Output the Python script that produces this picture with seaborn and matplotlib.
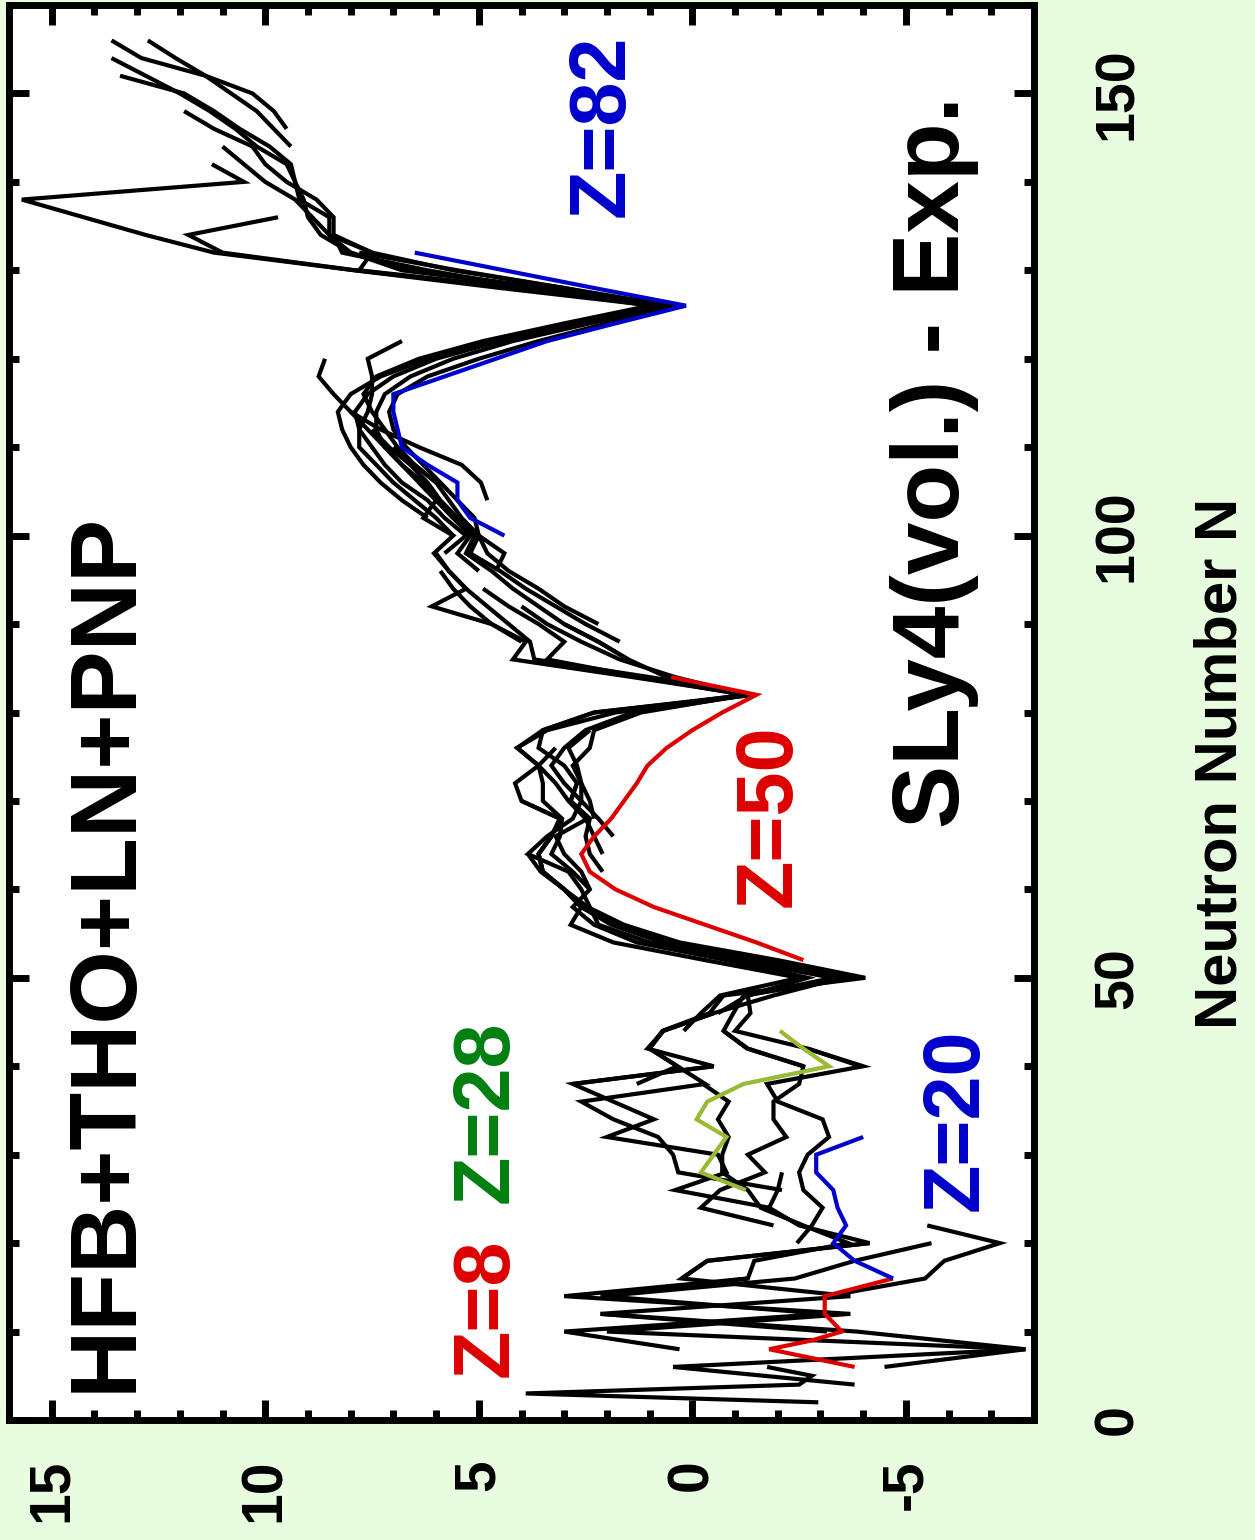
import numpy as np
import pandas as pd
import matplotlib
matplotlib.use("Agg")
import matplotlib.pyplot as plt
import seaborn as sns
from matplotlib.ticker import MultipleLocator

sns.set_theme(style="white")
plt.rcParams["font.family"] = ["Liberation Sans", "DejaVu Sans"]
plt.rcParams["font.weight"] = "bold"
plt.rcParams["lines.solid_joinstyle"] = "miter"
plt.rcParams["lines.solid_capstyle"] = "butt"
plt.rcParams["axes.unicode_minus"] = False
plt.rcParams["text.color"] = "black"
plt.rcParams["xtick.color"] = "black"
plt.rcParams["ytick.color"] = "black"
plt.rcParams["axes.labelcolor"] = "black"

# ---------------- data: (N, SLy4 - Exp) per isotopic chain ----------------
# coloured chains
N_z8 = [6, 8, 9, 10, 12, 14, 16]
dE_z8 = [-3.8, -1.8, -2.8, -3.5, -3.1, -3.1, -4.7]
N_z20 = [16, 18, 20, 22, 24, 26, 28, 30, 32]
dE_z20 = [-4.7, -3.8, -3.3, -3.6, -3.4, -3.3, -2.9, -2.9, -4.0]
N_z28 = [26, 28, 30, 32, 34, 36, 38, 40, 42, 44]
dE_z28 = [-1.25, -0.2, -0.5, -0.8, -0.1, -0.35, -1.2, -3.2, -2.6, -2.05]
N_z50 = [52, 54, 56, 58, 60, 62, 64, 66, 68, 70, 72, 74, 76, 78, 80, 82, 84]
dE_z50 = [-2.6, -1.5, -0.3, 0.9, 1.8, 2.4, 2.6, 2.3, 1.9, 1.6, 1.3, 1.05, 0.6, 0.0, -0.7, -1.5, 0.5]
N_z82 = [100, 102, 104, 106, 108, 110, 112, 114, 116, 118, 120, 122, 124, 126, 128, 130, 132]
dE_z82 = [4.4, 5.2, 5.5, 5.5, 6.2, 6.8, 6.9, 7.0, 7.0, 5.8, 4.6, 3.4, 1.8, 0.15, 2.3, 4.4, 6.5]

# black chains: light nuclei
N_g1 = [2, 3, 4, 5, 6]
dE_g1 = [-2.95, 3.9, -2.5, -2.8, -1.75]
N_g2 = [4, 6, 8, 10, 12]
dE_g2 = [-3.8, 0.45, -7.8, -3.85, 2.15]
N_g3 = [6, 8, 10, 12, 14, 16]
dE_g3 = [-4.5, -7.8, 2.0, -3.7, 3.0, -1.3]
N_g4 = [8, 10, 12, 14, 16, 18, 20]
dE_g4 = [0.3, 3.0, -3.1, 2.1, -2.4, -3.8, -5.6]
N_g5 = [10, 12, 14, 16, 18, 20]
dE_g5 = [-3.15, 2.15, -3.7, 0.25, -0.35, -4.15]
N_g6 = [14, 16, 18, 20, 22]
dE_g6 = [-3.15, -5.45, -5.9, -7.2, -5.5]

# sd / fp shell chains
N_f1 = [26, 28, 30, 32, 34, 36, 38, 40, 42, 44, 46]
dE_f1 = [-2.1, 0.33, 0.45, 0.8, 1.85, 2.6, -0.3, 0.35, 1.0, 0.68, -0.5]
N_f2 = [24, 26, 28, 30, 32, 34, 36, 38, 40]
dE_f2 = [-1.8, 0.4, -0.8, -0.6, 2.0, 0.9, 1.85, 2.8, -0.5]
N_f3 = [22, 24, 26, 28, 30, 32, 34, 36, 38, 40, 42, 44]
dE_f3 = [-1.9, -0.2, -0.65, -1.7, -1.3, -2.2, -1.9, -1.9, -2.5, -2.6, -1.3, -0.73]
N_f4 = [20, 22, 24, 26, 28, 30, 32, 34, 36, 38, 40, 42]
dE_f4 = [-2.45, -2.8, -3.05, -2.6, -2.5, -2.7, -3.2, -3.05, -2.0, -1.75, -4.0, -2.7]
N_f5 = [14, 16, 18, 20, 22, 24, 26, 28, 30, 32, 34, 36, 38]
dE_f5 = [2.15, -1.3, -1.45, -3.65, -2.6, -1.6, -1.3, -0.7, -0.7, -0.85, -0.6, -0.85, -0.25]
N_f6 = [16, 18, 20, 22, 24, 26, 28]
dE_f6 = [0.25, -0.35, -4.15, -2.5, -1.8, -2.0, -2.1]

# chains crossing N=50
N_e1 = [38, 40, 42, 44, 46, 48, 50, 52, 54, 56, 58, 60, 62, 64]
dE_e1 = [2.8, -0.5, 1.05, 0.68, -0.5, -1.9, -3.5, -1.4, 0.6, 1.8, 2.6, 3.0, 3.55, 3.85]
N_e2 = [38, 40, 42, 44, 46, 48, 50, 52, 54, 56, 58, 60, 62, 64, 66]
dE_e2 = [1.3, 0.35, 1.0, 0.7, -0.4, -0.73, -4.05, -2.0, 0.3, 1.6, 2.45, 3.0, 3.5, 3.6, 3.3]
N_e3 = [40, 42, 44, 46, 48, 50, 52, 54, 56, 58, 60, 62, 64, 66, 68, 70]
dE_e3 = [-2.6, -1.28, -0.73, -0.96, -1.2, -3.8, -1.6, 0.7, 1.9, 2.6, 3.0, 3.5, 3.6, 3.3, 3.1, 4.0]
N_e4 = [40, 42, 44, 46, 48, 50, 52, 54, 56, 58, 60, 62, 64, 66, 68, 70, 72]
dE_e4 = [-3.93, -2.7, -1.0, -1.36, -1.3, -2.7, -0.8, 1.3, 2.3, 2.8, 2.4, 2.6, 3.0, 3.2, 2.45, 2.85, 2.7]
N_e5 = [44, 46, 48, 50, 52, 54, 56, 58, 60, 62, 64, 66, 68, 70, 72, 74, 76]
dE_e5 = [0.2, -0.2, -0.65, -2.5, -0.3, 1.85, 2.85, 2.6, 3.0, 3.5, 3.6, 3.3, 3.1, 4.0, 4.15, 3.6, 3.2]
N_e6 = [46, 48, 50, 52, 54, 56, 58, 60, 62, 64, 66, 68, 70, 72, 74, 76, 78]
dE_e6 = [-0.6, -1.29, -3.3, -1.0, 1.0, 2.2, 2.4, 2.6, 2.9, 3.85, 3.4, 2.8, 2.6, 2.6, 2.7, 2.9, 2.4]

# chains crossing N=82
N_d1 = [60, 62, 64, 66, 68, 70, 72, 74, 76, 78, 80, 82, 84, 86, 88, 90, 92, 94, 96]
dE_d1 = [2.4, 2.8, 3.3, 3.1, 3.05, 3.5, 3.5, 3.6, 4.1, 3.5, 2.3, -1.3, 1.4, 4.2, 3.9, 4.7, 5.2, 5.6, 5.9]
N_d2 = [62, 64, 66, 68, 70, 72, 74, 76, 78, 80, 82, 84, 86, 88, 90, 92, 94, 96, 98]
dE_d2 = [2.1, 2.4, 2.5, 2.4, 2.85, 2.7, 3.0, 3.6, 3.5, 2.3, -1.45, 1.0, 3.7, 3.8, 4.3, 4.8, 5.3, 5.7, 6.0]
N_d3 = [64, 66, 68, 70, 72, 74, 76, 78, 80, 82, 84, 86, 88, 90, 92, 94]
dE_d3 = [2.1, 2.3, 2.5, 2.9, 3.2, 3.6, 4.1, 3.4, 1.8, -1.2, 1.2, 3.4, 3.0, 3.6, 4.3, 4.9]
N_d4 = [66, 68, 70, 72, 74, 76, 78, 80, 82, 84, 86, 88, 90]
dE_d4 = [1.85, 2.2, 2.6, 3.0, 3.3, 3.0, 2.5, 1.4, -1.35, 0.6, 1.5, 2.2, 3.0]
N_d5 = [68, 70, 72, 74, 76, 78, 80, 82, 84, 86, 88, 90, 92]
dE_d5 = [2.3, 2.4, 2.6, 2.8, 2.4, 2.3, 1.2, -1.25, 0.4, 1.7, 2.6, 3.4, 4.0]

# rare-earth chains
N_c1 = [90, 92, 94, 96, 98, 100, 102, 104, 106, 108, 110]
dE_c1 = [2.2, 3.0, 3.6, 4.3, 4.8, 5.0, 5.4, 5.7, 6.0, 6.5, 7.0]
N_c2 = [88, 90, 92, 94, 96, 98, 100, 102, 104, 106, 108, 110, 112]
dE_c2 = [1.7, 2.5, 3.2, 3.9, 4.5, 5.2, 5.0, 5.5, 5.9, 6.2, 6.6, 7.1, 7.5]
N_c3 = [86, 88, 90, 92, 94, 96, 98, 100, 102, 104, 106, 108, 110, 112, 114]
dE_c3 = [1.5, 2.2, 3.0, 3.6, 4.2, 4.7, 5.3, 5.1, 5.6, 6.0, 6.3, 6.8, 7.2, 7.6, 8.0]
N_c4 = [88, 90, 92, 94, 96, 98, 100, 102, 104, 106]
dE_c4 = [4.0, 4.7, 6.1, 5.3, 5.7, 6.05, 5.6, 6.3, 6.0, 6.4]

# chains crossing N=126
N_b2 = [104, 106, 108, 110, 112, 114, 116, 118, 120]
dE_b2 = [4.8, 4.95, 5.4, 6.4, 7.3, 8.0, 8.4, 8.75, 8.6]
N_b3 = [100, 102, 104, 106, 108, 110, 112, 114, 116, 118, 120, 122]
dE_b3 = [5.6, 6.0, 6.5, 7.0, 7.4, 7.8, 7.8, 7.6, 7.5, 7.5, 7.6, 6.8]
N_b4 = [96, 98, 100, 102, 104, 106, 108, 110, 112, 114, 116, 118, 120, 122, 124, 126, 128, 130, 132]
dE_b4 = [5.0, 5.5, 5.2, 5.6, 6.0, 6.4, 6.8, 7.2, 7.4, 7.4, 7.2, 6.6, 5.6, 4.2, 2.4, 0.5, 3.0, 5.5, 7.8]
N_b5 = [98, 100, 102, 104, 106, 108, 110, 112, 114, 116, 118, 120, 122, 124, 126, 128, 130]
dE_b5 = [5.8, 5.3, 5.8, 6.2, 6.8, 7.2, 7.5, 7.8, 7.9, 7.6, 7.0, 6.0, 4.5, 2.6, 0.7, 3.5, 6.5]
N_b6 = [102, 104, 106, 108, 110, 112, 114, 116, 118, 120, 122, 124, 126, 128]
dE_b6 = [6.2, 6.8, 7.3, 7.7, 8.0, 8.2, 8.3, 8.0, 7.3, 6.2, 4.6, 2.8, 0.9, 4.0]
N_b7 = [96, 98, 100, 102, 104, 106, 108, 110, 112, 114, 116, 118, 120, 122, 124, 126]
dE_b7 = [4.6, 4.4, 5.0, 5.1, 5.5, 5.9, 6.3, 6.7, 7.0, 7.1, 6.9, 6.2, 5.0, 3.6, 2.0, 0.3]
N_b8 = [106, 108, 110, 112, 114, 116, 118, 120, 122, 124, 126, 128, 130, 132, 134]
dE_b8 = [6.0, 6.5, 6.9, 7.2, 7.5, 7.7, 7.4, 6.4, 4.9, 3.0, 1.0, 3.8, 6.2, 8.2, 8.4]

# actinide chains
N_a1 = [126, 128, 130, 132, 134, 136, 138, 140, 142, 144, 146, 148]
dE_a1 = [0.8, 3.0, 5.6, 7.5, 8.4, 8.4, 8.8, 9.5, 10.0, 10.3, 11.2, 11.9]
N_a2 = [126, 128, 130, 132, 134, 136, 138, 140, 142, 144, 146, 148, 150, 152]
dE_a2 = [0.6, 3.4, 6.8, 8.0, 8.5, 8.5, 9.2, 9.3, 9.4, 9.9, 10.6, 11.2, 11.9, 13.4]
N_a3 = [126, 128, 130, 132, 134, 136, 138, 140, 142, 144, 146, 148, 150, 152, 154]
dE_a3 = [0.3, 3.6, 6.6, 8.0, 8.7, 9.0, 9.1, 9.3, 9.5, 10.2, 10.7, 11.3, 12.0, 12.8, 13.6]
N_a4 = [146, 148, 150, 152, 154, 156]
dE_a4 = [9.5, 9.8, 10.3, 11.4, 12.9, 13.6]
N_a5 = [144, 146, 148, 150, 152, 154, 156]
dE_a5 = [9.4, 9.8, 10.2, 10.8, 11.4, 12.1, 12.75]
N_a6 = [126, 128, 130, 132, 134, 136, 138, 140, 142, 144]
dE_a6 = [0.2, 4.0, 7.8, 7.5, 8.5, 8.9, 9.3, 10.0, 10.5, 11.0]
N_a7 = [126, 128, 130, 132, 134, 138, 140, 142]
dE_a7 = [0.9, 4.5, 7.9, 11.2, 12.8, 15.7, 10.5, 11.25]
N_a8 = [126, 128, 130, 132, 134, 136]
dE_a8 = [0.6, 4.2, 7.9, 11.0, 11.8, 9.7]

black_chains = {
    "g1": (N_g1, dE_g1), "g2": (N_g2, dE_g2), "g3": (N_g3, dE_g3),
    "g4": (N_g4, dE_g4), "g5": (N_g5, dE_g5), "g6": (N_g6, dE_g6),
    "f1": (N_f1, dE_f1), "f2": (N_f2, dE_f2), "f3": (N_f3, dE_f3),
    "f4": (N_f4, dE_f4), "f5": (N_f5, dE_f5), "f6": (N_f6, dE_f6),
    "e1": (N_e1, dE_e1), "e2": (N_e2, dE_e2), "e3": (N_e3, dE_e3),
    "e4": (N_e4, dE_e4), "e5": (N_e5, dE_e5), "e6": (N_e6, dE_e6),
    "d1": (N_d1, dE_d1), "d2": (N_d2, dE_d2), "d3": (N_d3, dE_d3),
    "d4": (N_d4, dE_d4), "d5": (N_d5, dE_d5),
    "c1": (N_c1, dE_c1), "c2": (N_c2, dE_c2), "c3": (N_c3, dE_c3), "c4": (N_c4, dE_c4),
    "b2": (N_b2, dE_b2), "b3": (N_b3, dE_b3), "b4": (N_b4, dE_b4), "b5": (N_b5, dE_b5),
    "b6": (N_b6, dE_b6), "b7": (N_b7, dE_b7), "b8": (N_b8, dE_b8),
    "a1": (N_a1, dE_a1), "a2": (N_a2, dE_a2), "a3": (N_a3, dE_a3), "a4": (N_a4, dE_a4),
    "a5": (N_a5, dE_a5), "a6": (N_a6, dE_a6), "a7": (N_a7, dE_a7), "a8": (N_a8, dE_a8),
}
rows = []
for name, (ns, ds) in black_chains.items():
    for n, d in zip(ns, ds):
        rows.append({"chain": name, "N": n, "dE": d})
df_black = pd.DataFrame(rows)

coloured = [
    (N_z8, dE_z8, "#dd0000"),
    (N_z20, dE_z20, "#0000cc"),
    (N_z28, dE_z28, "#99bb33"),
    (N_z50, dE_z50, "#dd0000"),
    (N_z82, dE_z82, "#0000cc"),
]

# ---------------- figure ----------------
W, H = 1255, 1540
fig = plt.figure(figsize=(W / 100, H / 100), dpi=100, facecolor="#e8fce0")
ax = fig.add_axes([9 / W, 1 - 1420 / H, (1034 - 9) / W, (1420 - 5) / H])
ax.set_facecolor("white")

LW = 3.0
sns.lineplot(data=df_black, x="dE", y="N", units="chain", estimator=None, sort=False,
             color="black", lw=LW, ax=ax, legend=False)
for ns, ds, col in coloured:
    sns.lineplot(x=ds, y=ns, estimator=None, sort=False, color=col, lw=LW, ax=ax, legend=False)

ax.set_xlim(16, -8)
ax.set_ylim(0, 160)
ax.set_xlabel("")
ax.set_ylabel("")

ax.xaxis.set_major_locator(MultipleLocator(5))
ax.xaxis.set_minor_locator(MultipleLocator(1))
ax.yaxis.set_major_locator(MultipleLocator(50))
ax.yaxis.set_minor_locator(MultipleLocator(10))
ax.tick_params(which="both", direction="in", top=True, bottom=True, left=True, right=True,
               width=5, color="black", labelcolor="black")
ax.tick_params(which="major", length=14.5)
ax.tick_params(which="minor", length=7.5)
ax.tick_params(axis="y", labelleft=False, labelright=True, pad=42, labelsize=40)
ax.tick_params(axis="x", pad=28, labelsize=41)
for s in ax.spines.values():
    s.set_linewidth(5)
    s.set_color("black")
    s.set_visible(True)

for lab in ax.get_xticklabels():
    lab.set_rotation(90)
    lab.set_ha("center")
    lab.set_va("top")
    lab.set_fontweight("bold")
    lab.set_color("black")
for lab in ax.get_yticklabels():
    lab.set_rotation(90)
    lab.set_ha("left")
    lab.set_va("center")
    lab.set_fontweight("bold")
    lab.set_color("black")

ax.text(1.182, 0.464, "Neutron Number N", transform=ax.transAxes, rotation=90,
        ha="center", va="center", fontsize=43, fontweight="bold", color="black")

ax.text(13.73, 52.9, "HFB+THO+LN+PNP", rotation=90, ha="center", va="center",
        fontsize=68, fontweight="bold", color="black")
ax.text(-5.66, 108.3, "SLy4(vol.) - Exp.", rotation=90, ha="center", va="center",
        fontsize=68, fontweight="bold", color="black")

ax.text(4.8, 12.7, "Z=8", rotation=90, ha="center", va="center", fontsize=57,
        fontweight="bold", color="#dd0000")
ax.text(4.8, 34.8, "Z=28", rotation=90, ha="center", va="center", fontsize=57,
        fontweight="bold", color="#007f10")
ax.text(-6.2, 34.0, "Z=20", rotation=90, ha="center", va="center", fontsize=57,
        fontweight="bold", color="#0000cc")
ax.text(-1.82, 68.3, "Z=50", rotation=90, ha="center", va="center", fontsize=57,
        fontweight="bold", color="#dd0000")
ax.text(2.08, 146.3, "Z=82", rotation=90, ha="center", va="center", fontsize=57,
        fontweight="bold", color="#0000cc")

fig.savefig("out.png", dpi=100, facecolor=fig.get_facecolor())
